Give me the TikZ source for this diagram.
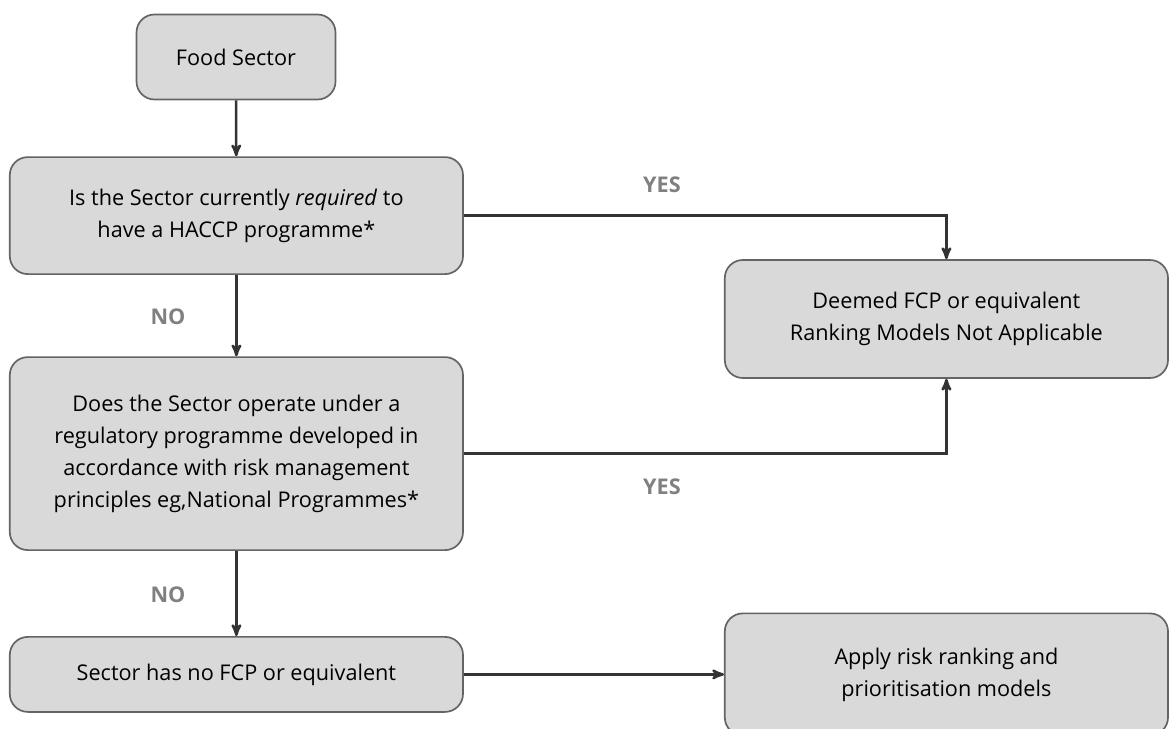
\documentclass[tikz,border=0pt]{standalone}
\usepackage{fontspec}
\setmainfont{Open Sans}
\usepackage{tikz}
\usetikzlibrary{arrows}
\definecolor{boxfill}{HTML}{D9D9D9}
\definecolor{boxline}{HTML}{646464}
\definecolor{linkline}{HTML}{333333}
\definecolor{answer}{HTML}{808080}
\tikzset{
 flowbox/.style={draw=boxline, line width=1.2pt, fill=boxfill, rounded corners=0.45cm,
   align=center, inner sep=0pt, font=\fontsize{15.4}{22.8}\selectfont},
 link/.style={draw=linkline, line width=1.8pt, ->, >=stealth'},
 answerlabel/.style={text=answer, font=\fontsize{15.4}{18}\selectfont\bfseries}
}

\begin{document}
\begin{tikzpicture}
\useasboundingbox (0,0) rectangle (29.25,-18.225);
\clip (0,0) rectangle (29.25,-18.225);
% boxes
\node[flowbox, minimum width=4.975cm, minimum height=2.125cm] (food) at (5.9,-1.425) {Food Sector};
\node[flowbox, minimum width=11.33cm, minimum height=2.925cm] (haccp) at (5.91,-5.39) {Is the Sector currently \textit{required} to\\have a HACCP programme*};
\node[flowbox, minimum width=11.33cm, minimum height=4.825cm] (regprog) at (5.91,-11.34) {Does the Sector operate under a\\regulatory programme developed in\\accordance with risk management\\principles eg,National Programmes*};
\node[flowbox, minimum width=11.33cm, minimum height=1.875cm] (nofcp) at (5.91,-16.86) {Sector has no FCP or equivalent};
\node[flowbox, minimum width=11.08cm, minimum height=2.95cm] (deemed) at (23.66,-7.975) {Deemed FCP or equivalent\\Ranking Models Not Applicable};
\node[flowbox, minimum width=11.08cm, minimum height=3.05cm] (apply) at (23.66,-16.86) {Apply risk ranking and\\prioritisation models};
% connectors
\draw[link] (food) -- (haccp);
\draw[link] (haccp) -- (regprog);
\draw[link] (regprog) -- (nofcp);
\draw[link] (haccp.east) -| (deemed.north);
\draw[link] (regprog.east) -| (deemed.south);
\draw[link] (nofcp) -- (apply);
% answers
\node[answerlabel] (yes1) at (16.55,-4.625) {YES};
\node[answerlabel] (yes2) at (16.55,-12.175) {YES};
\node[answerlabel] (no1) at (4.2,-7.925) {NO};
\node[answerlabel] (no2) at (4.2,-14.875) {NO};
\end{tikzpicture}
\end{document}
